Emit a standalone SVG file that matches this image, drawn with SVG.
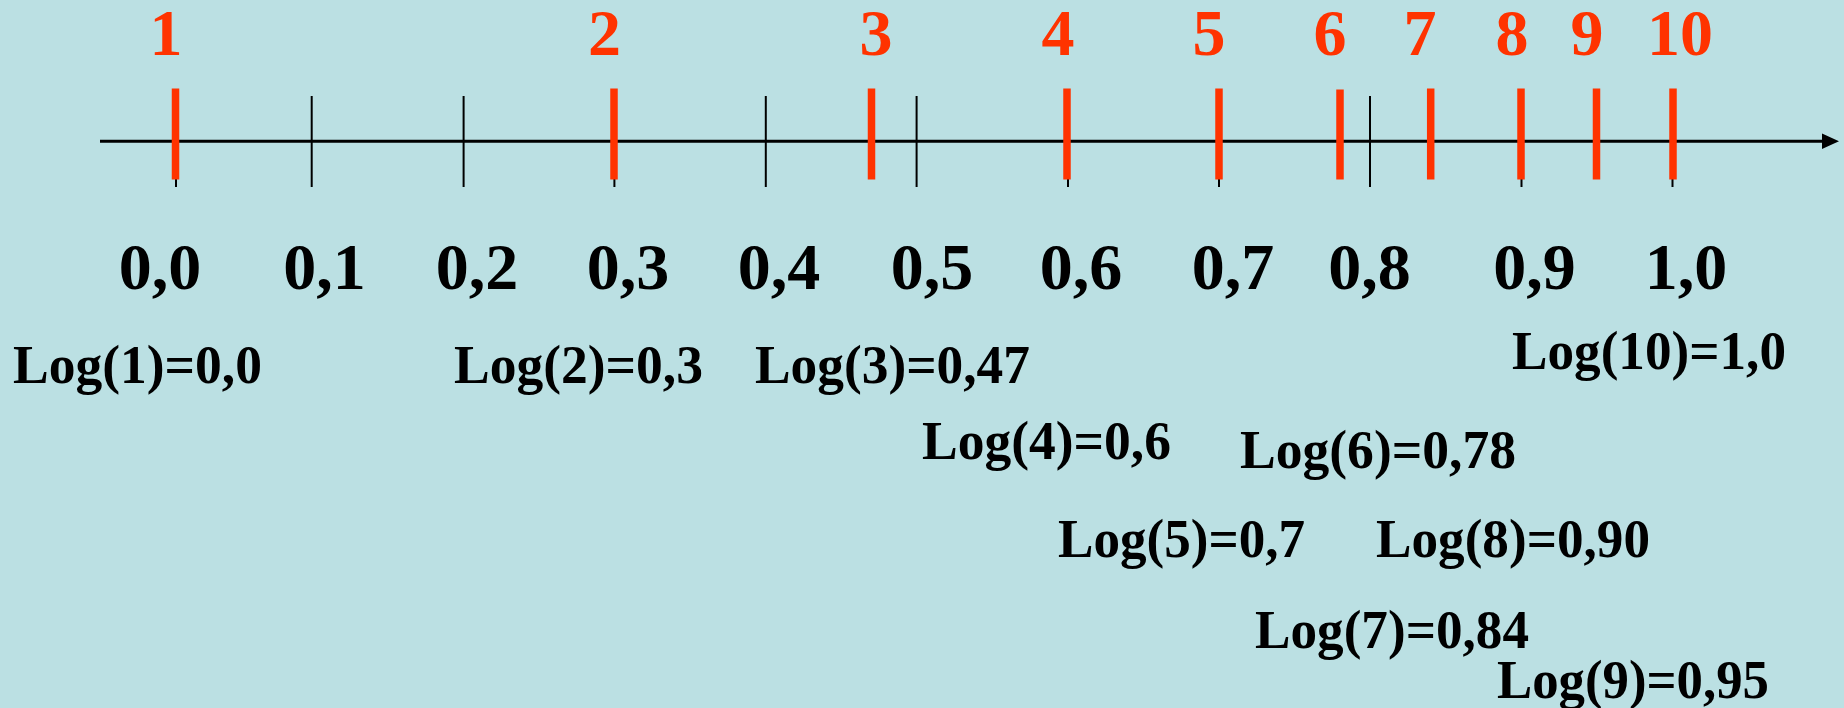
<svg xmlns="http://www.w3.org/2000/svg" width="1844" height="708" viewBox="0 0 1844 708">
<style>
.num{font-family:"Liberation Serif","Times New Roman",serif;font-weight:bold;font-size:66px;fill:#FF3300;text-anchor:middle}
.scale{font-family:"Liberation Serif","Times New Roman",serif;font-weight:bold;font-size:66px;fill:#000;text-anchor:middle}
.log{font-family:"Liberation Serif","Times New Roman",serif;font-weight:bold;font-size:54px;fill:#000}
.bt{stroke:#000;stroke-width:2}
.rt{stroke:#FF3300;stroke-width:7.5}
</style>
<rect x="0" y="0" width="1844" height="708" fill="#BBE0E3"/>
<g id="axis">
<line x1="100" y1="141.3" x2="1825" y2="141.3" stroke="#000" stroke-width="3"/>
<polygon points="1822,133.5 1839,141.3 1822,149" fill="#000"/>
</g>
<g id="black-ticks">
<line class="bt" x1="176" y1="96" x2="176" y2="187"/>
<line class="bt" x1="311.7" y1="96" x2="311.7" y2="187"/>
<line class="bt" x1="463.6" y1="96" x2="463.6" y2="187"/>
<line class="bt" x1="614.4" y1="96" x2="614.4" y2="187"/>
<line class="bt" x1="765.8" y1="96" x2="765.8" y2="187"/>
<line class="bt" x1="916.6" y1="96" x2="916.6" y2="187"/>
<line class="bt" x1="1068" y1="96" x2="1068" y2="187"/>
<line class="bt" x1="1219" y1="96" x2="1219" y2="187"/>
<line class="bt" x1="1370" y1="96" x2="1370" y2="187"/>
<line class="bt" x1="1521.5" y1="96" x2="1521.5" y2="187"/>
<line class="bt" x1="1672.5" y1="96" x2="1672.5" y2="187"/>
</g>
<g id="red-ticks">
<line class="rt" x1="175.5" y1="88.5" x2="175.5" y2="179.5"/>
<line class="rt" x1="614" y1="88.5" x2="614" y2="179.5"/>
<line class="rt" x1="871.5" y1="88.5" x2="871.5" y2="179.5"/>
<line class="rt" x1="1067" y1="88.5" x2="1067" y2="179.5"/>
<line class="rt" x1="1219" y1="88.5" x2="1219" y2="179.5"/>
<line class="rt" x1="1340" y1="89.5" x2="1340" y2="179.5"/>
<line class="rt" x1="1430.7" y1="88.5" x2="1430.7" y2="179.5"/>
<line class="rt" x1="1521" y1="88.5" x2="1521" y2="179.5"/>
<line class="rt" x1="1596.5" y1="88.5" x2="1596.5" y2="179.5"/>
<line class="rt" x1="1673" y1="88.5" x2="1673" y2="179.5"/>
</g>
<g id="numbers">
<text class="num" x="166" y="55">1</text>
<text class="num" x="604.5" y="55">2</text>
<text class="num" x="876" y="55">3</text>
<text class="num" x="1058" y="55">4</text>
<text class="num" x="1209" y="55">5</text>
<text class="num" x="1330" y="55">6</text>
<text class="num" x="1420" y="55">7</text>
<text class="num" x="1512" y="55">8</text>
<text class="num" x="1587" y="55">9</text>
<text class="num" x="1680" y="55">10</text>
</g>
<g id="scale-labels">
<text class="scale" x="160" y="289">0,0</text>
<text class="scale" x="324.5" y="289">0,1</text>
<text class="scale" x="477" y="289">0,2</text>
<text class="scale" x="628" y="289">0,3</text>
<text class="scale" x="779" y="289">0,4</text>
<text class="scale" x="932" y="289">0,5</text>
<text class="scale" x="1081" y="289">0,6</text>
<text class="scale" x="1233" y="289">0,7</text>
<text class="scale" x="1369.5" y="289">0,8</text>
<text class="scale" x="1534.5" y="289">0,9</text>
<text class="scale" x="1686" y="289">1,0</text>
</g>
<g id="log-labels">
<text class="log" x="13" y="383" textLength="249" lengthAdjust="spacingAndGlyphs">Log(1)=0,0</text>
<text class="log" x="454" y="383" textLength="249" lengthAdjust="spacingAndGlyphs">Log(2)=0,3</text>
<text class="log" x="755" y="383" textLength="275" lengthAdjust="spacingAndGlyphs">Log(3)=0,47</text>
<text class="log" x="922" y="459" textLength="249" lengthAdjust="spacingAndGlyphs">Log(4)=0,6</text>
<text class="log" x="1058" y="556.5" textLength="247" lengthAdjust="spacingAndGlyphs">Log(5)=0,7</text>
<text class="log" x="1240" y="468" textLength="276" lengthAdjust="spacingAndGlyphs">Log(6)=0,78</text>
<text class="log" x="1255" y="648" textLength="274" lengthAdjust="spacingAndGlyphs">Log(7)=0,84</text>
<text class="log" x="1376" y="556.5" textLength="274" lengthAdjust="spacingAndGlyphs">Log(8)=0,90</text>
<text class="log" x="1497" y="698" textLength="272" lengthAdjust="spacingAndGlyphs">Log(9)=0,95</text>
<text class="log" x="1512" y="369" textLength="274" lengthAdjust="spacingAndGlyphs">Log(10)=1,0</text>
</g>
</svg>
